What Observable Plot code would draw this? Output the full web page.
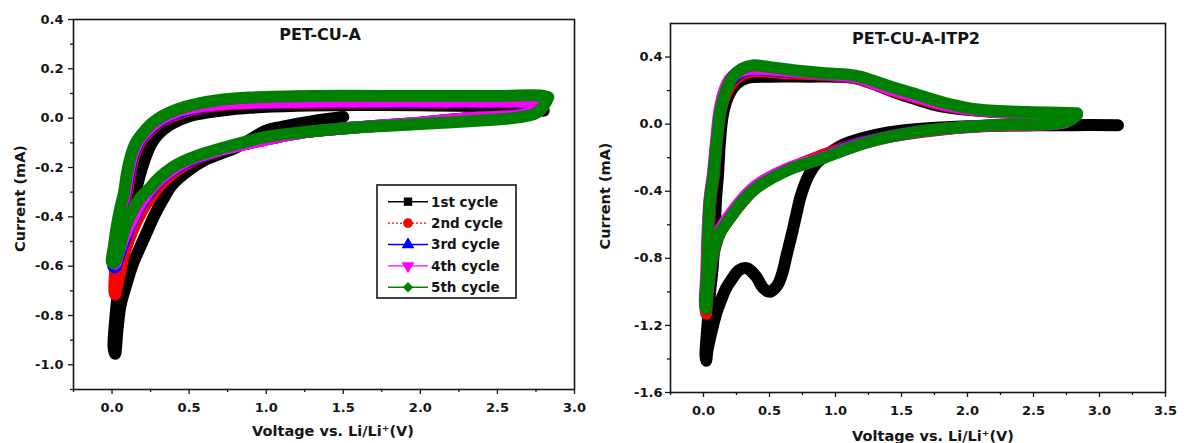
<!DOCTYPE html>
<html><head><meta charset="utf-8">
<script src="https://cdn.jsdelivr.net/npm/d3@7"></script>
<script src="https://cdn.jsdelivr.net/npm/@observablehq/plot@0.6"></script>
<style>
html,body{margin:0;padding:0;background:#fff;}
#wrap{display:flex;width:1184px;height:443px;overflow:hidden;}
</style></head>
<body><div id="wrap"><div id="left"></div><div id="right"></div></div>
<script>
// ---------- categories & style lists ----------
const cycleNames = ["1st cycle", "2nd cycle", "3rd cycle", "4th cycle", "5th cycle"];
const cycleColors = ["#000000", "#ff0000", "#0000ff", "#ff00ff", "#008000"];
const panelTitles = ["PET-CU-A", "PET-CU-A-ITP2"];
const xLabel = "Voltage vs. Li/Li\u207A(V)";
const yLabel = "Current (mA)";

// ---------- tick values ----------
const leftXTicks = [0, 0.5, 1.0, 1.5, 2.0, 2.5, 3.0];
const leftXMinor = [-0.25, 0.25, 0.75, 1.25, 1.75, 2.25, 2.75];
const leftYTicks = [-1.0, -0.8, -0.6, -0.4, -0.2, 0.0, 0.2, 0.4];
const leftYMinor = [-1.1, -0.9, -0.7, -0.5, -0.3, -0.1, 0.1, 0.3];
const rightXTicks = [0, 0.5, 1.0, 1.5, 2.0, 2.5, 3.0, 3.5];
const rightXMinor = [-0.25, 0.25, 0.75, 1.25, 1.75, 2.25, 2.75, 3.25];
const rightYTicks = [-1.6, -1.2, -0.8, -0.4, 0.0, 0.4];
const rightYMinor = [-1.4, -1.0, -0.6, -0.2, 0.2];

// ---------- PET-CU-A : [voltage (V), current (mA)] ----------
const cuA_c1 = [[1.5,0.005],[1.3,-0.012],[1.1,-0.035],[1.0,-0.05],[0.9,-0.085],[0.8,-0.12],[0.7,-0.145],[0.6,-0.17],[0.5,-0.21],[0.39,-0.27],[0.33,-0.33],[0.27,-0.4],[0.22,-0.47],[0.17,-0.54],[0.13,-0.6],[0.09,-0.68],[0.055,-0.76],[0.035,-0.86],[0.02,-0.955],
  [0.01,-0.93],[0.02,-0.82],[0.04,-0.7],[0.07,-0.58],[0.1,-0.46],[0.13,-0.36],[0.16,-0.28],[0.2,-0.19],[0.25,-0.11],[0.3,-0.065],[0.38,-0.025],[0.5,0.008],[0.7,0.03],[0.89,0.042],[1.2,0.05],[1.6,0.053],[2.0,0.052],[2.5,0.047],[2.75,0.04],[2.8,0.03]];
const cuA_c2 = [[2.8,0.07],[2.75,0.03],[2.6,0.01],[2.3,0.0],[2.0,-0.018],[1.5,-0.042],[1.2,-0.062],[0.9,-0.1],[0.7,-0.13],[0.5,-0.18],[0.4,-0.22],[0.3,-0.28],[0.2,-0.37],[0.13,-0.46],[0.08,-0.55],[0.05,-0.63],[0.03,-0.69],[0.02,-0.715],
  [0.015,-0.7],[0.022,-0.6],[0.032,-0.5],[0.052,-0.42],[0.078,-0.35],[0.1,-0.29],[0.118,-0.22],[0.14,-0.16],[0.18,-0.1],[0.24,-0.055],[0.3,-0.02],[0.38,0.005],[0.48,0.028],[0.63,0.048],[0.8,0.058],[1.0,0.062],[1.5,0.064],[2.2,0.064],[2.7,0.066],[2.8,0.07]];
const cuA_c3 = [[2.82,0.075],[2.75,0.03],[2.6,0.01],[2.3,0.0],[2.0,-0.018],[1.5,-0.042],[1.2,-0.062],[0.9,-0.1],[0.7,-0.13],[0.5,-0.175],[0.4,-0.21],[0.3,-0.26],[0.2,-0.34],[0.13,-0.42],[0.08,-0.5],[0.04,-0.57],[0.02,-0.605],
  [0.008,-0.6],[0.024,-0.5],[0.045,-0.42],[0.07,-0.35],[0.093,-0.29],[0.112,-0.22],[0.133,-0.16],[0.172,-0.1],[0.23,-0.055],[0.29,-0.02],[0.37,0.008],[0.47,0.03],[0.62,0.05],[0.8,0.06],[1.0,0.064],[1.5,0.066],[2.2,0.066],[2.7,0.068],[2.82,0.075]];
const cuA_c4 = [[2.8,0.07],[2.7,0.02],[2.3,0.0],[2.0,-0.018],[1.5,-0.042],[1.2,-0.062],[0.9,-0.1],[0.7,-0.13],[0.5,-0.17],[0.4,-0.205],[0.3,-0.255],[0.2,-0.33],[0.13,-0.41],[0.08,-0.48],[0.04,-0.55],[0.02,-0.59],
  [0.005,-0.58],[0.02,-0.5],[0.04,-0.42],[0.065,-0.35],[0.088,-0.29],[0.106,-0.22],[0.127,-0.16],[0.165,-0.1],[0.22,-0.055],[0.28,-0.02],[0.36,0.01],[0.45,0.032],[0.6,0.05],[0.8,0.06],[1.0,0.065],[1.5,0.068],[2.2,0.068],[2.7,0.07],[2.8,0.075]];
const cuA_c5 = [[2.83,0.085],[2.8,0.05],[2.75,0.02],[2.6,0.0],[2.5,-0.005],[2.0,-0.024],[1.5,-0.042],[1.0,-0.076],[0.89,-0.092],[0.72,-0.12],[0.61,-0.14],[0.5,-0.165],[0.39,-0.2],[0.3,-0.245],[0.25,-0.28],[0.175,-0.33],[0.12,-0.39],[0.08,-0.45],[0.05,-0.52],[0.03,-0.565],[0.015,-0.585],
  [0.0,-0.585],[0.012,-0.52],[0.03,-0.44],[0.055,-0.36],[0.078,-0.3],[0.095,-0.23],[0.115,-0.17],[0.15,-0.105],[0.2,-0.06],[0.26,-0.02],[0.33,0.01],[0.41,0.033],[0.55,0.058],[0.72,0.076],[0.89,0.084],[1.3,0.09],[2.0,0.09],[2.5,0.09],[2.78,0.092],[2.83,0.085]];

// ---------- PET-CU-A-ITP2 : [voltage (V), current (mA)] ----------
const itp_c1 = [[3.14,-0.006],[2.8,-0.006],[2.4,-0.008],[2.0,-0.013],[1.7,-0.025],[1.4,-0.05],[1.2,-0.085],[1.05,-0.125],[0.97,-0.163],[0.86,-0.23],[0.8,-0.3],[0.74,-0.42],[0.7,-0.55],[0.67,-0.653],[0.63,-0.78],[0.6,-0.88],[0.56,-0.96],[0.5,-1.0],[0.45,-0.975],[0.4,-0.91],[0.33,-0.86],[0.27,-0.87],[0.21,-0.93],[0.17,-0.98],[0.135,-1.045],[0.1,-1.12],[0.06,-1.24],[0.03,-1.35],[0.02,-1.41],
  [0.015,-1.38],[0.03,-1.2],[0.05,-1.0],[0.07,-0.85],[0.085,-0.65],[0.095,-0.45],[0.11,-0.3],[0.125,-0.1],[0.15,0.07],[0.19,0.17],[0.25,0.24],[0.33,0.275],[0.5,0.283],[0.8,0.283],[1.0,0.283],[1.15,0.275],[1.25,0.25],[1.35,0.22],[1.45,0.19],[1.58,0.155],[1.75,0.115],[2.0,0.085],[2.3,0.07],[2.6,0.06],[2.8,0.055]];
const itp_c2 = [[2.82,0.05],[2.75,0.015],[2.6,-0.002],[2.2,-0.01],[1.83,-0.03],[1.58,-0.055],[1.4,-0.075],[1.1,-0.13],[0.9,-0.185],[0.65,-0.265],[0.4,-0.38],[0.3,-0.46],[0.2,-0.56],[0.12,-0.66],[0.07,-0.8],[0.04,-0.95],[0.025,-1.07],[0.02,-1.13],
  [0.015,-1.1],[0.025,-0.9],[0.04,-0.65],[0.055,-0.45],[0.08,-0.3],[0.1,-0.1],[0.13,0.08],[0.17,0.18],[0.22,0.25],[0.3,0.3],[0.4,0.315],[0.6,0.305],[0.9,0.295],[1.1,0.28],[1.2,0.265],[1.3,0.235],[1.45,0.195],[1.58,0.165],[1.83,0.11],[2.08,0.08],[2.46,0.065],[2.7,0.06],[2.82,0.055]];
const itp_c3 = [[2.83,0.06],[2.75,0.015],[2.6,0.0],[2.2,-0.007],[1.83,-0.027],[1.58,-0.05],[1.4,-0.075],[1.1,-0.135],[0.9,-0.2],[0.65,-0.265],[0.4,-0.375],[0.3,-0.455],[0.2,-0.555],[0.12,-0.65],[0.07,-0.79],[0.04,-0.94],[0.025,-1.05],[0.02,-1.1],
  [0.015,-1.08],[0.025,-0.9],[0.035,-0.65],[0.05,-0.45],[0.075,-0.3],[0.1,-0.1],[0.125,0.08],[0.16,0.19],[0.21,0.26],[0.29,0.31],[0.38,0.325],[0.6,0.315],[0.9,0.3],[1.1,0.285],[1.2,0.27],[1.3,0.24],[1.45,0.2],[1.58,0.17],[1.83,0.115],[2.08,0.082],[2.46,0.067],[2.7,0.062],[2.83,0.06]];
const itp_c4 = [[2.82,0.06],[2.75,0.015],[2.6,0.0],[2.2,-0.007],[1.83,-0.028],[1.58,-0.052],[1.4,-0.078],[1.1,-0.14],[0.9,-0.2],[0.65,-0.26],[0.4,-0.365],[0.3,-0.44],[0.2,-0.54],[0.12,-0.64],[0.07,-0.77],[0.04,-0.92],[0.025,-1.03],[0.015,-1.08],
  [0.01,-1.06],[0.02,-0.9],[0.03,-0.65],[0.045,-0.45],[0.07,-0.3],[0.095,-0.1],[0.12,0.08],[0.155,0.195],[0.2,0.27],[0.28,0.315],[0.37,0.33],[0.6,0.32],[0.9,0.3],[1.1,0.288],[1.2,0.272],[1.3,0.24],[1.45,0.2],[1.58,0.17],[1.83,0.115],[2.08,0.083],[2.46,0.068],[2.7,0.062],[2.82,0.06]];
const itp_c5 = [[2.83,0.055],[2.78,0.025],[2.7,0.008],[2.55,0.0],[2.2,-0.005],[1.83,-0.026],[1.58,-0.05],[1.33,-0.09],[1.1,-0.145],[0.9,-0.205],[0.65,-0.27],[0.4,-0.38],[0.3,-0.455],[0.2,-0.56],[0.12,-0.655],[0.07,-0.78],[0.04,-0.93],[0.025,-1.04],[0.02,-1.1],
  [0.012,-1.08],[0.025,-0.9],[0.035,-0.65],[0.048,-0.45],[0.075,-0.3],[0.1,-0.1],[0.13,0.09],[0.17,0.2],[0.22,0.28],[0.29,0.33],[0.37,0.35],[0.5,0.34],[0.7,0.32],[0.9,0.305],[1.1,0.295],[1.2,0.28],[1.28,0.26],[1.45,0.215],[1.58,0.185],[1.83,0.126],[2.08,0.087],[2.46,0.072],[2.7,0.068],[2.83,0.065]];

// ---------- build tables ----------
function toRows(curves) {
  return curves.flatMap((pts, k) => pts.map(([v, c], j) => ({cycle: cycleNames[k], v, c, j})));
}
const leftRows = toRows([cuA_c1, cuA_c2, cuA_c3, cuA_c4, cuA_c5]);
const rightRows = toRows([itp_c1, itp_c2, itp_c3, itp_c4, itp_c5]);

const FONT = "DejaVu Sans";
const fmt = d => d.toFixed(1);

function panel(o) {
  return Plot.plot({
    width: o.width, height: 443,
    marginLeft: o.ml, marginRight: o.mr, marginTop: o.mt, marginBottom: o.mb,
    style: {fontFamily: FONT, fontWeight: "bold", fontSize: "13px", color: "#151515", background: "#fff", overflow: "visible"},
    x: {domain: o.xDomain},
    y: {domain: o.yDomain},
    color: {domain: cycleNames, range: cycleColors},
    marks: [
      Plot.line(o.rows, {x: "v", y: "c", z: "cycle", stroke: "cycle", strokeWidth: 12,
        curve: "catmull-rom", strokeLinejoin: "round", strokeLinecap: "round", clip: true}),
      Plot.frame({stroke: "#151515", strokeWidth: 1.6}),
      Plot.axisX(o.xTicks, {tickSize: 5, tickPadding: 8, tickFormat: fmt, label: null, strokeWidth: 1.3}),
      Plot.axisX(o.xMinor, {tickSize: 3, tickFormat: () => "", label: null, strokeWidth: 1.3}),
      Plot.axisY(o.yTicks, {tickSize: 5, tickPadding: o.yPad, tickFormat: fmt, label: null, strokeWidth: 1.3}),
      Plot.axisY(o.yMinor, {tickSize: 3, tickFormat: () => "", label: null, strokeWidth: 1.3}),
      Plot.text([o.title], {frameAnchor: "top", dy: o.titleDy, dx: o.titleDx, fontSize: 16, fontWeight: "bold", lineAnchor: "middle", textAnchor: "middle"}),
      Plot.text([yLabel], {frameAnchor: "left", rotate: -90, dx: o.yLabDx, dy: o.yLabDy, fontSize: 14.5, fontWeight: "bold", lineAnchor: "middle", textAnchor: "middle"}),
      Plot.text([xLabel], {frameAnchor: "bottom", dx: o.xLabDx, dy: o.xLabDy, fontSize: 14.5, fontWeight: "bold", lineAnchor: "middle", textAnchor: "middle"})
    ]
  });
}

const leftPlot = panel({
  rows: leftRows, width: 590, ml: 73, mr: 16, mt: 19, mb: 54,
  xDomain: [-0.25, 3.0], yDomain: [-1.1, 0.4],
  xTicks: leftXTicks, xMinor: leftXMinor, yTicks: leftYTicks, yMinor: leftYMinor, yPad: 5,
  title: panelTitles[0], titleDy: 15, titleDx: -4,
  yLabDx: -53, yLabDy: -6, xLabDx: 9, xLabDy: 42
});
const rightPlot = panel({
  rows: rightRows, width: 594, ml: 80, mr: 19, mt: 23, mb: 51,
  xDomain: [-0.25, 3.5], yDomain: [-1.6, 0.6],
  xTicks: rightXTicks, xMinor: rightXMinor, yTicks: rightYTicks, yMinor: rightYMinor, yPad: 3,
  title: panelTitles[1], titleDy: 15, titleDx: -2,
  yLabDx: -65, yLabDy: -12, xLabDx: 15, xLabDy: 44
});
document.getElementById("left").appendChild(leftPlot);
document.getElementById("right").appendChild(rightPlot);

// ---------- legend (inside left panel) ----------
(function addLegend(svgNode) {
  const svg = d3.select(svgNode);
  const g = svg.append("g").attr("transform", "translate(377,185)");
  g.append("rect").attr("width", 139).attr("height", 113).attr("fill", "#fff").attr("stroke", "#151515").attr("stroke-width", 1.6);
  const shapes = [
    {type: d3.symbolSquare, size: 70, rot: 0},
    {type: d3.symbolCircle, size: 75, rot: 0},
    {type: d3.symbolTriangle, size: 70, rot: 0},
    {type: d3.symbolTriangle, size: 70, rot: 180},
    {type: d3.symbolSquare, size: 55, rot: 45}
  ];
  cycleNames.forEach((name, k) => {
    const y = 16.7 + k * 21.4;
    g.append("line").attr("x1", 11).attr("x2", 51).attr("y1", y).attr("y2", y)
      .attr("stroke", cycleColors[k]).attr("stroke-width", 1.4)
      .attr("stroke-dasharray", k === 1 ? "2,2" : null);
    g.append("path").attr("d", d3.symbol().type(shapes[k].type).size(shapes[k].size)())
      .attr("transform", `translate(31,${y}) rotate(${shapes[k].rot})`).attr("fill", cycleColors[k]);
    g.append("text").attr("x", 54).attr("y", y).attr("dy", "0.36em")
      .attr("text-anchor", "start")
      .attr("font-family", FONT).attr("font-weight", "bold").attr("font-size", 13.5)
      .attr("fill", "#151515").text(name);
  });
})(leftPlot);
</script>
</body></html>
